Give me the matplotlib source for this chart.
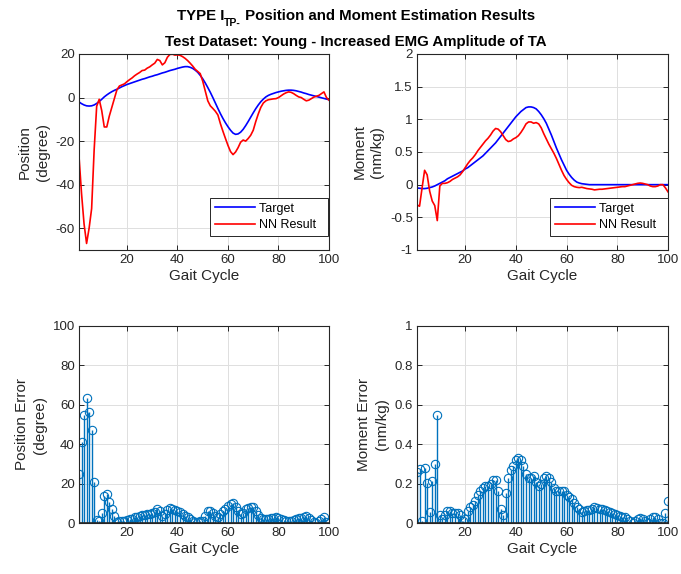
import numpy as np
import matplotlib
matplotlib.use("Agg")
import matplotlib.pyplot as plt
from matplotlib.ticker import FuncFormatter

# ---- data (gait cycle 1..100) ----
gait = np.arange(1, 101)

pos_target = [
    -2.0, -2.8, -3.4, -3.8, -3.9, -3.8, -3.4, -2.7, -1.8, -0.8,
    0.3, 1.2, 2.0, 2.7, 3.3, 3.8, 4.4, 5.0, 5.5, 6.0,
    6.4, 6.8, 7.2, 7.6, 8.0, 8.4, 8.7, 9.1, 9.5, 9.8,
    10.2, 10.5, 10.9, 11.3, 11.6, 12.0, 12.4, 12.7, 13.0, 13.4,
    13.7, 14.0, 14.2, 14.2, 13.9, 13.4, 12.6, 11.6, 10.2, 8.6,
    6.7, 4.6, 2.4, 0.0, -2.5, -5.0, -7.4, -9.6, -11.6, -13.4,
    -15.0, -16.3, -16.9, -16.7, -15.9, -14.6, -12.9, -11.0, -9.0, -7.0,
    -5.1, -3.4, -1.9, -0.7, 0.3, 1.0, 1.5, 1.9, 2.3, 2.6,
    2.9, 3.1, 3.3, 3.4, 3.4, 3.3, 3.1, 2.8, 2.5, 2.1,
    1.8, 1.4, 1.1, 0.8, 0.5, 0.2, -0.1, -0.4, -0.7, -1.0,
]
pos_nn = [
    -27.0, -44.0, -58.0, -67.0, -60.0, -51.0, -24.0, -4.0, -0.8, -6.0,
    -13.5, -13.5, -8.5, -4.5, -0.5, 3.5, 5.3, 5.8, 6.3, 7.3,
    8.2, 9.0, 10.0, 10.8, 11.5, 12.4, 12.6, 13.5, 14.1, 15.0,
    15.8, 17.5, 17.0, 15.0, 16.0, 18.5, 19.8, 19.9, 19.5, 19.6,
    19.4, 18.8, 18.0, 17.0, 15.8, 14.5, 13.0, 12.0, 11.0, 7.5,
    3.0, -1.5, -3.8, -5.0, -6.3, -8.0, -12.0, -15.5, -18.8, -22.0,
    -24.8, -26.2, -25.0, -23.0, -20.5, -19.5, -20.0, -18.8, -17.3, -15.0,
    -11.0, -7.5, -4.5, -2.5, -1.5, -1.0, -0.8, -0.6, -0.5, 0.0,
    0.8, 1.6, 2.2, 2.6, 2.4, 1.8, 1.0, 0.3, 0.0, -0.8,
    -1.5, -1.2, -0.5, 0.2, 0.6, 1.0, 1.8, 2.6, 0.0, -1.2,
]
mom_target = [
    -0.05, -0.055, -0.06, -0.06, -0.055, -0.045, -0.035, -0.02, 0.0, 0.02,
    0.04, 0.06, 0.09, 0.11, 0.13, 0.15, 0.17, 0.19, 0.21, 0.24,
    0.26, 0.29, 0.32, 0.35, 0.38, 0.41, 0.44, 0.48, 0.52, 0.56,
    0.60, 0.64, 0.69, 0.74, 0.79, 0.84, 0.89, 0.94, 0.99, 1.04,
    1.08, 1.12, 1.15, 1.18, 1.19, 1.19, 1.18, 1.16, 1.12, 1.07,
    1.01, 0.94, 0.85, 0.76, 0.66, 0.56, 0.47, 0.38, 0.30, 0.22,
    0.16, 0.11, 0.07, 0.04, 0.025, 0.015, 0.01, 0.005, 0.0, 0.0,
    0.0, 0.0, 0.0, 0.0, 0.0, 0.0, 0.0, 0.0, 0.0, 0.0,
    0.0, 0.0, 0.0, 0.0, 0.0, 0.0, 0.0, 0.0, 0.0, 0.0,
    0.0, 0.0, 0.0, 0.0, 0.0, 0.0, 0.0, 0.0, 0.0, 0.0,
]
mom_nn = [
    -0.31, -0.33, -0.05, 0.22, 0.15, -0.10, -0.25, -0.32, -0.55, -0.02,
    0.02, 0.02, 0.03, 0.05, 0.08, 0.10, 0.12, 0.15, 0.20, 0.26,
    0.32, 0.37, 0.41, 0.46, 0.52, 0.57, 0.62, 0.67, 0.71, 0.76,
    0.82, 0.86, 0.85, 0.81, 0.75, 0.69, 0.66, 0.67, 0.70, 0.72,
    0.75, 0.80, 0.86, 0.93, 0.96, 0.96, 0.94, 0.95, 0.93, 0.87,
    0.78, 0.70, 0.62, 0.55, 0.48, 0.40, 0.31, 0.22, 0.14, 0.08,
    0.03, -0.01, -0.03, -0.04, -0.045, -0.04, -0.05, -0.06, -0.065, -0.07,
    -0.08, -0.075, -0.07, -0.07, -0.065, -0.06, -0.055, -0.05, -0.045, -0.04,
    -0.035, -0.03, -0.03, -0.02, -0.01, 0.0, 0.01, 0.02, 0.025, 0.02,
    0.01, 0.0, -0.02, -0.03, -0.03, -0.02, 0.0, 0.0, -0.05, -0.11,
]

# errors are the absolute difference of the two curves
pos_err = np.abs(np.array(pos_target) - np.array(pos_nn))
mom_err = np.abs(np.array(mom_target) - np.array(mom_nn))

title1 = ("TYPE I", "TP-", " Position and Moment Estimation Results")
title2 = "Test Dataset: Young - Increased EMG Amplitude of TA"

# ---- style ----
plt.rcParams["font.family"] = ["Liberation Sans", "DejaVu Sans"]
plt.rcParams["axes.unicode_minus"] = False

DARK = "#262626"
GRID = "#dfdfdf"
STEM = "#0072BD"

fig = plt.figure(figsize=(6.81, 5.74), dpi=100)
W, H = 681, 574


def box(l, t, r, b):
    return [l / W, 1 - b / H, (r - l) / W, (b - t) / H]


ax1 = fig.add_axes(box(79, 54, 329, 250))
ax2 = fig.add_axes(box(417, 54, 668, 250))
ax3 = fig.add_axes(box(79, 326, 329, 523))
ax4 = fig.add_axes(box(417, 326, 668, 523))

fmt = FuncFormatter(lambda v, p: "{:g}".format(round(v, 6)))


def style(ax, ylim, yticks, ylabel):
    ax.set_xlim(1, 100)
    ax.set_xticks([20, 40, 60, 80, 100])
    ax.set_ylim(*ylim)
    ax.set_yticks(yticks)
    ax.yaxis.set_major_formatter(fmt)
    ax.grid(True, color=GRID, linewidth=0.7)
    ax.set_axisbelow(True)
    for s in ax.spines.values():
        s.set_color(DARK)
        s.set_linewidth(0.8)
    ax.tick_params(direction="in", length=3.5, width=0.7, colors=DARK,
                   labelsize=9.5, top=True, right=True, pad=3)
    ax.set_xlabel("Gait Cycle", fontsize=11, color=DARK, labelpad=2)
    ax.set_ylabel(ylabel, fontsize=11, color=DARK, labelpad=4, linespacing=1.35)


def lines(ax, target, nn, anchor):
    ax.plot(gait, target, color="blue", linewidth=1.2, label="Target  ")
    ax.plot(gait, nn, color="red", linewidth=1.2, label="NN Result  ")
    leg = ax.legend(loc="lower right", bbox_to_anchor=anchor, borderaxespad=0,
                    fontsize=9, fancybox=False, framealpha=1, edgecolor=DARK,
                    handlelength=3.2, handletextpad=0.3, labelspacing=0.35,
                    borderpad=0.4)
    leg.get_frame().set_linewidth(0.7)


def stems(ax, err):
    ml, sl, bl = ax.stem(gait, err)
    ml.set_marker("o")
    ml.set_markerfacecolor("none")
    ml.set_markeredgecolor(STEM)
    ml.set_markersize(6)
    ml.set_markeredgewidth(0.8)
    sl.set_color(STEM)
    sl.set_linewidth(1.0)
    bl.set_color(DARK)
    bl.set_linewidth(1.2)


lines(ax1, pos_target, pos_nn, (0.996, 0.071))
style(ax1, (-70, 20), [-60, -40, -20, 0, 20], "Position\n(degree)")

lines(ax2, mom_target, mom_nn, (1.0, 0.071))
style(ax2, (-1, 2), [-1, -0.5, 0, 0.5, 1, 1.5, 2], "Moment\n(nm/kg)")

stems(ax3, pos_err)
style(ax3, (0, 100), [0, 20, 40, 60, 80, 100], "Position Error\n(degree)")

stems(ax4, mom_err)
style(ax4, (0, 1), [0, 0.2, 0.4, 0.6, 0.8, 1], "Moment Error\n(nm/kg)")

# ---- two line bold title with subscript ----
tkw = dict(family=["Liberation Sans", "DejaVu Sans"], fontweight="bold",
           color="black", ha="left", va="baseline")
tsize, ssize = 10.8, 7.5
xc = 356

y1 = 1 - 20 / H
y2 = 1 - 46 / H
t2 = fig.text(0, y2, title2, fontsize=tsize, **tkw)
ta = fig.text(0, y1, title1[0], fontsize=tsize, **tkw)
tb = fig.text(0, y1 - 6 / H, title1[1], fontsize=ssize, **tkw)
tc = fig.text(0, y1, title1[2], fontsize=tsize, **tkw)
r = fig.canvas.get_renderer()
w2 = t2.get_window_extent(r).width
t2.set_x((xc - w2 / 2) / W)
wa = ta.get_window_extent(r).width
wb = tb.get_window_extent(r).width
wc = tc.get_window_extent(r).width
x0 = xc - (wa + wb + wc) / 2
ta.set_x(x0 / W)
tb.set_x((x0 + wa) / W)
tc.set_x((x0 + wa + wb) / W)

fig.savefig("out.png", dpi=100)
